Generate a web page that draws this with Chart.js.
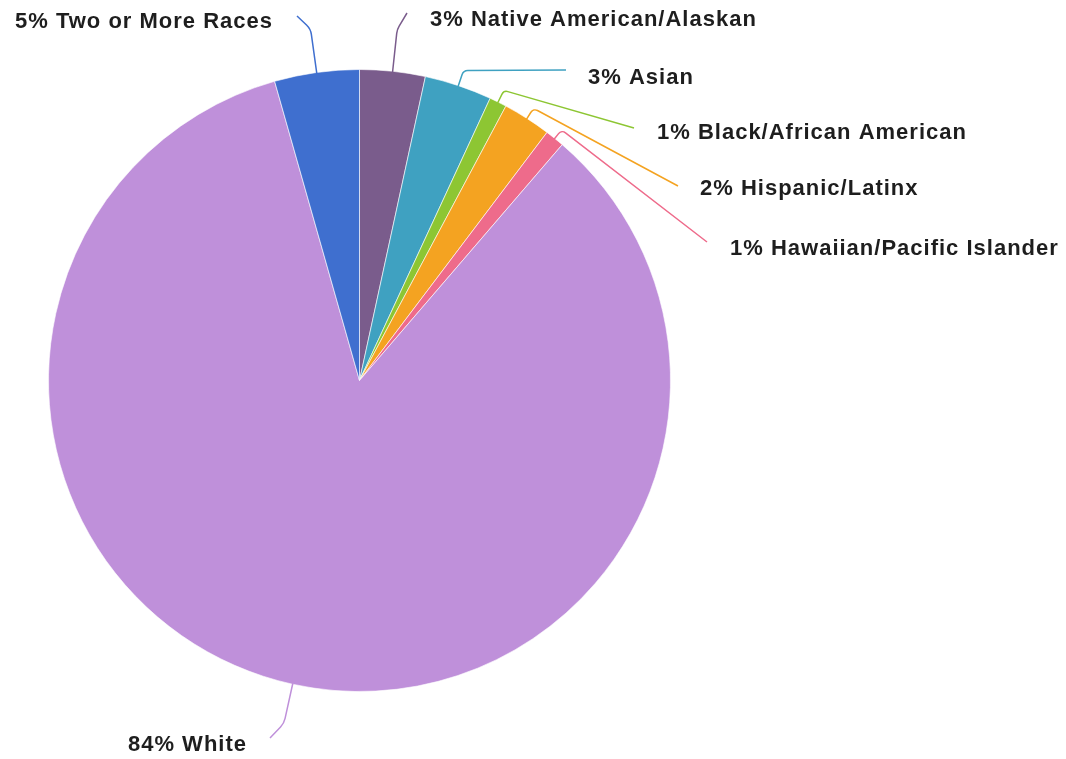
<!DOCTYPE html>
<html>
<head>
<meta charset="utf-8">
<script src="https://cdn.jsdelivr.net/npm/chart.js@4.4.0/dist/chart.umd.min.js"></script>
<style>
  html, body { margin: 0; padding: 0; background: #fff; }
  #wrap { width: 1066px; height: 759px; }
</style>
</head>
<body>
<div id="wrap"><canvas id="raceChart" width="1066" height="759"></canvas></div>
<script>
// values, clockwise from 12 o'clock
const categories = ['Native American/Alaskan', 'Asian', 'Black/African American', 'Hispanic/Latinx', 'Hawaiian/Pacific Islander', 'White', 'Two or More Races'];
const shares = [3.4, 3.5, 0.9, 2.5, 1.0, 84.3, 4.4];
const pctLabels = ['3%', '3%', '1%', '2%', '1%', '84%', '5%'];
const colors = ['#7a5c8c', '#3fa1c1', '#8dc633', '#f4a321', '#ee6b8b', '#bf90da', '#3f6fcf'];

// where each leader line ends and its text sits
const leaderLayout = [
    { out: 42, end: [407, 13], text: [430, 20], align: 'left', r: 18 },
    { out: 16, end: [566, 70], text: [588, 78], align: 'left', r: 6 },
    { out: 13, end: [634, 128], text: [657, 133], align: 'left', r: 5 },
    { out: 12, end: [678, 186], text: [700, 189], align: 'left', r: 5 },
    { out: 11, end: [707, 242], text: [730, 249], align: 'left', r: 5 },
    { out: 40, end: [270, 738], text: [246, 745], align: 'right', r: 18 },
    { out: 44, end: [297, 16], text: [272, 22], align: 'right', r: 16 }
];

const leaderLabels = {
    id: 'leaderLabels',
    afterDatasetsDraw(chart) {
        const ctx = chart.ctx;
        const arcs = chart.getDatasetMeta(0).data;
        ctx.save();
        arcs.forEach((arc, i) => {
            const cfg = leaderLayout[i];
            const mid = (arc.startAngle + arc.endAngle) / 2;
            const sx = arc.x + Math.cos(mid) * (arc.outerRadius - 1);
            const sy = arc.y + Math.sin(mid) * (arc.outerRadius - 1);
            const ex = arc.x + Math.cos(mid) * (arc.outerRadius + cfg.out);
            const ey = arc.y + Math.sin(mid) * (arc.outerRadius + cfg.out);

            ctx.beginPath();
            ctx.strokeStyle = colors[i];
            ctx.lineWidth = 1.5;
            ctx.moveTo(sx, sy);
            ctx.arcTo(ex, ey, cfg.end[0], cfg.end[1], cfg.r);
            ctx.lineTo(cfg.end[0], cfg.end[1]);
            ctx.stroke();

            ctx.fillStyle = '#1e1e1e';
            ctx.font = 'bold 22px "Liberation Sans", Arial, sans-serif';
            ctx.letterSpacing = '1px';
            ctx.textAlign = cfg.align;
            ctx.textBaseline = 'middle';
            // right-aligned text carries a trailing letter gap, nudge it back
            const x = cfg.align === 'right' ? cfg.text[0] + 1 : cfg.text[0];
            ctx.fillText(pctLabels[i] + ' ' + categories[i], x, cfg.text[1]);
        });
        ctx.restore();
    }
};

const ctx = document.getElementById('raceChart').getContext('2d');
new Chart(ctx, {
    type: 'pie',
    data: {
        labels: categories,
        datasets: [{
            data: shares,
            backgroundColor: colors,
            borderColor: 'rgba(255,255,255,0.6)',
            borderWidth: 1
        }]
    },
    options: {
        responsive: false,
        animation: false,
        layout: {
            padding: { top: 69, bottom: 67, left: 48, right: 395 }
        },
        plugins: {
            legend: { display: false },
            tooltip: { enabled: false }
        }
    },
    plugins: [leaderLabels]
});
</script>
</body>
</html>
